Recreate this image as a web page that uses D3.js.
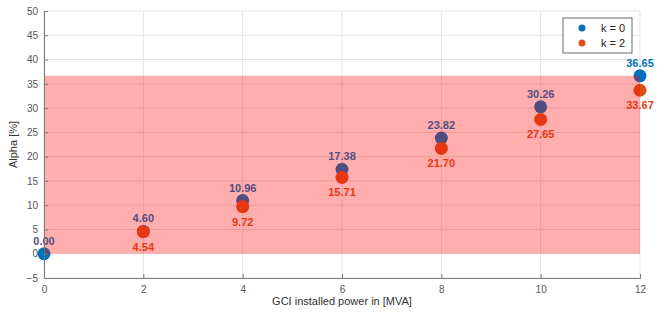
<!DOCTYPE html>
<html>
<head>
<meta charset="utf-8">
<script src="https://cdn.jsdelivr.net/npm/d3@7"></script>
<style>
  body { margin: 0; background: #fff; }
  text { font-family: "Liberation Sans", Arial, sans-serif; }
</style>
</head>
<body>
<div id="chart"></div>
<script>
// data
var powers = [0, 2, 4, 6, 8, 10, 12];
var alphaK0 = [0.00, 4.60, 10.96, 17.38, 23.82, 30.26, 36.65];
var powersK2 = [2, 4, 6, 8, 10, 12];
var alphaK2 = [4.54, 9.72, 15.71, 21.70, 27.65, 33.67];
var xTicks = [0, 2, 4, 6, 8, 10, 12];
var yTicks = [-5, 0, 5, 10, 15, 20, 25, 30, 35, 40, 45, 50];
var bandLow = 0, bandHigh = 36.65;

var width = 670, height = 314;
var margin = { left: 44, top: 11, right: 30, bottom: 36 };
var innerWidth = width - margin.left - margin.right;
var innerHeight = height - margin.top - margin.bottom;

var blue = "#0072BD", orange = "#D95319";
var bandAlpha = 0.32;

// colour of something seen through the red band
function throughBand(c) {
    return d3.interpolateRgb(c, "#ff0000")(bandAlpha);
}

var svg = d3.select("#chart").append("svg")
    .attr("width", width)
    .attr("height", height);
var g = svg.append("g")
    .attr("transform", "translate(" + margin.left + "," + margin.top + ")");

var x = d3.scaleLinear().domain([0, 12]).range([0, innerWidth]);
var y = d3.scaleLinear().domain([-5, 50]).range([innerHeight, 0]);

// grid
g.append("g").selectAll("line").data(yTicks).enter().append("line")
    .attr("x1", 0).attr("x2", innerWidth)
    .attr("y1", function(d) { return y(d); }).attr("y2", function(d) { return y(d); })
    .attr("stroke", "#e3e3e3").attr("stroke-width", 1);
g.append("g").selectAll("line").data(xTicks).enter().append("line")
    .attr("y1", 0).attr("y2", innerHeight)
    .attr("x1", function(d) { return x(d); }).attr("x2", function(d) { return x(d); })
    .attr("stroke", "#e3e3e3").attr("stroke-width", 1);

// points (band is drawn over them, like in the original)
g.selectAll(".p0").data(powers).enter().append("circle")
    .attr("cx", function(d) { return x(d); })
    .attr("cy", function(d, i) { return y(alphaK0[i]); })
    .attr("r", 6.5).attr("fill", blue);
g.selectAll(".p2").data(powersK2).enter().append("circle")
    .attr("cx", function(d) { return x(d); })
    .attr("cy", function(d, i) { return y(alphaK2[i]); })
    .attr("r", 6.5).attr("fill", orange);

// red band
g.append("rect")
    .attr("x", 0).attr("width", innerWidth)
    .attr("y", y(bandHigh)).attr("height", y(bandLow) - y(bandHigh))
    .attr("fill", "#ff0000").attr("fill-opacity", bandAlpha);

// value labels, tinted when they sit inside the band
function inBand(py) { return py > y(bandHigh) && py < y(bandLow); }

g.selectAll(".l0").data(powers).enter().append("text")
    .attr("x", function(d) { return x(d); })
    .attr("y", function(d, i) { return y(alphaK0[i]) - 9; })
    .attr("text-anchor", "middle")
    .attr("font-size", 11).attr("font-weight", "bold")
    .attr("fill", function(d, i) {
        var py = y(alphaK0[i]) - 13;
        return inBand(py) ? throughBand(blue) : blue;
    })
    .text(function(d, i) { return alphaK0[i].toFixed(2); });

g.selectAll(".l2").data(powersK2).enter().append("text")
    .attr("x", function(d) { return x(d); })
    .attr("y", function(d, i) { return y(alphaK2[i]) + 19; })
    .attr("text-anchor", "middle")
    .attr("font-size", 11).attr("font-weight", "bold")
    .attr("fill", function(d, i) {
        var py = y(alphaK2[i]) + 15;
        return inBand(py) ? throughBand(orange) : orange;
    })
    .text(function(d, i) { return alphaK2[i].toFixed(2); });

// axes
var xAxis = g.append("g")
    .attr("transform", "translate(0," + innerHeight + ")")
    .call(d3.axisBottom(x).tickValues(xTicks).tickSize(-4).tickPadding(8));
var yAxis = g.append("g")
    .call(d3.axisLeft(y).tickValues(yTicks).tickSize(-4).tickPadding(6));
[xAxis, yAxis].forEach(function(a) {
    a.select(".domain").attr("stroke", "#7a7a7a");
    a.selectAll(".tick line").attr("stroke", "#7a7a7a");
    a.selectAll(".tick text").attr("fill", "#555").attr("font-size", 10)
        .attr("font-family", "Liberation Sans, Arial, sans-serif");
});

// axis titles
svg.append("text")
    .attr("x", margin.left + innerWidth / 2).attr("y", 305)
    .attr("text-anchor", "middle").attr("font-size", 11).attr("fill", "#333")
    .text("GCI installed power in [MVA]");
svg.append("text")
    .attr("transform", "translate(17," + (margin.top + innerHeight / 2) + ") rotate(-90)")
    .attr("text-anchor", "middle").attr("font-size", 11).attr("fill", "#333")
    .text("Alpha [%]");

// legend
var legend = svg.append("g").attr("transform", "translate(563,18)");
legend.append("rect").attr("width", 69).attr("height", 35)
    .attr("fill", "#fff").attr("stroke", "#444").attr("stroke-width", 0.8);
var legendItems = [{ name: "k = 0", color: blue }, { name: "k = 2", color: orange }];
legendItems.forEach(function(d, i) {
    legend.append("circle").attr("cx", 19).attr("cy", 10 + i * 15)
        .attr("r", 3.5).attr("fill", d.color);
    legend.append("text").attr("x", 38).attr("y", 14 + i * 15)
        .attr("font-size", 11).attr("fill", "#222").text(d.name);
});
</script>
</body>
</html>
